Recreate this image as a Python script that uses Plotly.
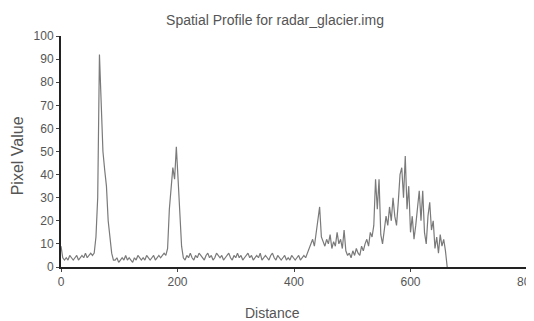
import plotly.graph_objects as go

seg_baseline_start = [9,4,3,4,3,5,4,3,4,5,3,4,5,4,6,4,5,6,5,6]
seg_peak1 = [13,30,92,70,50,42,35,20,12,6,3]
seg_baseline_mid = [3,4,2,3,4,3,5,3,4,3,2,4,3,5,4,3,4,3,5,4,3,4,5,3,4,5,4,5,6,5]
seg_peak2 = [8,25,33,43,38,52,38,20,9,4]
seg_baseline_long = [3,5,4,6,4,3,5,4,6,5,
                     4,3,5,6,4,5,3,4,6,5,
                     4,5,3,4,5,6,4,3,5,4,
                     6,4,5,3,4,5,6,4,5,3,
                     4,5,4,6,3,4,5,4,3,5,
                     6,4,3,5,4,3,4,5,3,4,
                     3,5,4,3,4,5,3,4,5,4,
                     6,8]
seg_rough = [10,12,9,14,20,26,13,11,9,12,10,14,8,11,9,15,10,12,8,16,
             7,5,6,4,7,5,8,6,5,9,7,10,12,9,15,13,18,38,25,38,
             14,10,16,22,18,26,20,30,22,18,28,40,43,30,48,25,35,15,22,12,
             18,26,33,20,33,15,10,22,28,16,20,8,13,6,14,9,12,7,0]

pixel_value = (seg_baseline_start + seg_peak1 + seg_baseline_mid + seg_peak2
               + seg_baseline_long + seg_rough)
step = 3
distance = [step * i for i in range(len(pixel_value))]

x_ticks = [0, 200, 400, 600, 800]
y_ticks = [0, 10, 20, 30, 40, 50, 60, 70, 80, 90, 100]

font_family = "Liberation Sans, Arial, sans-serif"
text_color = "#555"

fig = go.Figure()
fig.add_trace(go.Scatter(x=distance, y=pixel_value, mode="lines",
                         line=dict(color="#7a7a7a", width=1.2), showlegend=False))

fig.update_layout(
    width=534, height=321,
    margin=dict(l=53, r=15, t=28, b=62),
    paper_bgcolor="white", plot_bgcolor="white",
    title=dict(text="Spatial Profile for radar_glacier.img", x=0.5, xanchor="center",
               y=0.963, yanchor="middle",
               font=dict(family=font_family, size=14, color=text_color)),
    xaxis=dict(range=[0, 800], tickvals=x_ticks, ticktext=[str(v) for v in x_ticks],
               automargin=False, ticklabeloverflow="allow",
               showgrid=False, zeroline=False, showline=True, linecolor="#222", linewidth=2,
               ticks="outside", ticklen=3, tickcolor="#444",
               tickfont=dict(family=font_family, size=12, color=text_color)),
    yaxis=dict(range=[0, 100], tickvals=y_ticks, ticktext=[str(v) for v in y_ticks],
               automargin=False,
               showgrid=False, zeroline=False, showline=True, linecolor="#222", linewidth=2,
               ticks="outside", ticklen=3, tickcolor="#444",
               tickfont=dict(family=font_family, size=12, color=text_color)),
    annotations=[
        dict(text="Distance", xref="paper", yref="paper", x=0.453, y=-0.199,
             xanchor="center", yanchor="middle", showarrow=False,
             font=dict(family=font_family, size=14, color=text_color)),
        dict(text="Pixel Value", xref="paper", yref="paper", x=-0.094, y=0.48,
             xanchor="center", yanchor="middle", showarrow=False, textangle=-90,
             font=dict(family=font_family, size=16, color=text_color)),
    ],
)

fig.write_html("out.html")
